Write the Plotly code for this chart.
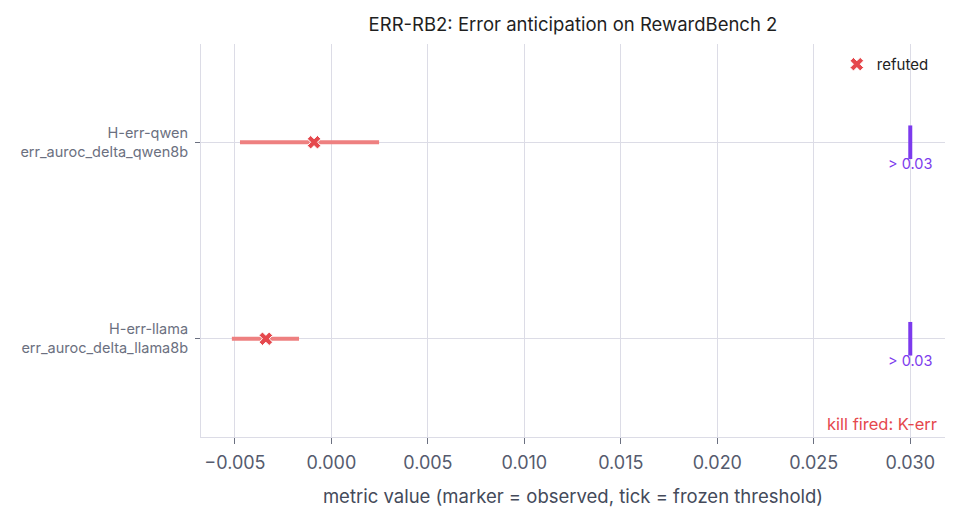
import plotly.graph_objects as go

hyp_labels = ["H-err-llama<br>err_auroc_delta_llama8b", "H-err-qwen<br>err_auroc_delta_qwen8b"]
observed = [-0.0034, -0.0009]
ci_low = [-0.00516, -0.00474]
ci_high = [-0.00168, 0.00247]
threshold = [0.03, 0.03]
threshold_text = ["> 0.03", "> 0.03"]
x_ticks = [-0.005, 0.0, 0.005, 0.010, 0.015, 0.020, 0.025, 0.030]

RED = "#e5484d"
CI = "#ee8080"
PURPLE = "#7c3aed"
FONT = "Inter"

fig = go.Figure()
for lbl, lo, hi in zip(hyp_labels, ci_low, ci_high):
    fig.add_trace(go.Scatter(x=[lo, hi], y=[lbl, lbl], mode="lines",
                             line=dict(color=CI, width=4), showlegend=False, hoverinfo="skip"))
fig.add_trace(go.Scatter(x=threshold, y=hyp_labels, mode="markers+text",
                         marker=dict(symbol="line-ns", size=24, line=dict(color=PURPLE, width=4), color=PURPLE),
                         text=threshold_text, textposition="bottom center",
                         textfont=dict(color=PURPLE, size=14.5, family=FONT), showlegend=False))
fig.add_trace(go.Scatter(x=observed, y=hyp_labels, mode="markers", name="refuted",
                         marker=dict(symbol="x", size=12, color=RED, line=dict(color="white", width=1))))

fig.add_annotation(text="kill fired: K-err", xref="paper", yref="paper", x=1, y=0,
                   xanchor="right", yanchor="bottom", showarrow=False, xshift=-6, yshift=1,
                   font=dict(color=RED, size=16.5, family=FONT))

fig.update_layout(
    width=959, height=521,
    margin=dict(l=201, r=14, t=44, b=84),
    paper_bgcolor="white", plot_bgcolor="white",
    font=dict(family=FONT, color="#555b6e"),
    title=dict(text="ERR-RB2: Error anticipation on RewardBench 2", x=0.5, xanchor="center", xref="paper",
               y=0.952, yanchor="middle", font=dict(size=18.5, color="#1f1f1f", family=FONT)),
    legend=dict(x=0.985, y=0.99, xanchor="right", yanchor="top", bgcolor="rgba(0,0,0,0)",
                font=dict(size=15, color="#222222", family=FONT)),
    showlegend=True,
)
fig.update_xaxes(range=[-0.00676, 0.0318], tickvals=x_ticks, tickformat=".3f",
                 showgrid=True, gridcolor="#dcdce6", gridwidth=1,
                 showline=True, linecolor="#dcdce6", linewidth=1,
                 ticks="outside", tickcolor="#6b7080", ticklen=6, ticklabelstandoff=3,
                 tickfont=dict(size=18, color="#555b6e"),
                 title=dict(text="metric value (marker = observed, tick = frozen threshold)",
                            font=dict(size=18.5, color="#444a5a"), standoff=18), zeroline=False)
fig.update_yaxes(type="category", categoryorder="array", categoryarray=hyp_labels,
                 range=[-0.5, 1.5],
                 showgrid=True, gridcolor="#dcdce6", showline=True, linecolor="#dcdce6",
                 ticks="outside", tickcolor="#6b7080", ticklen=5, ticklabelstandoff=4,
                 tickfont=dict(size=14.5, color="#6b7080"), zeroline=False)

fig.write_html("out.html")
